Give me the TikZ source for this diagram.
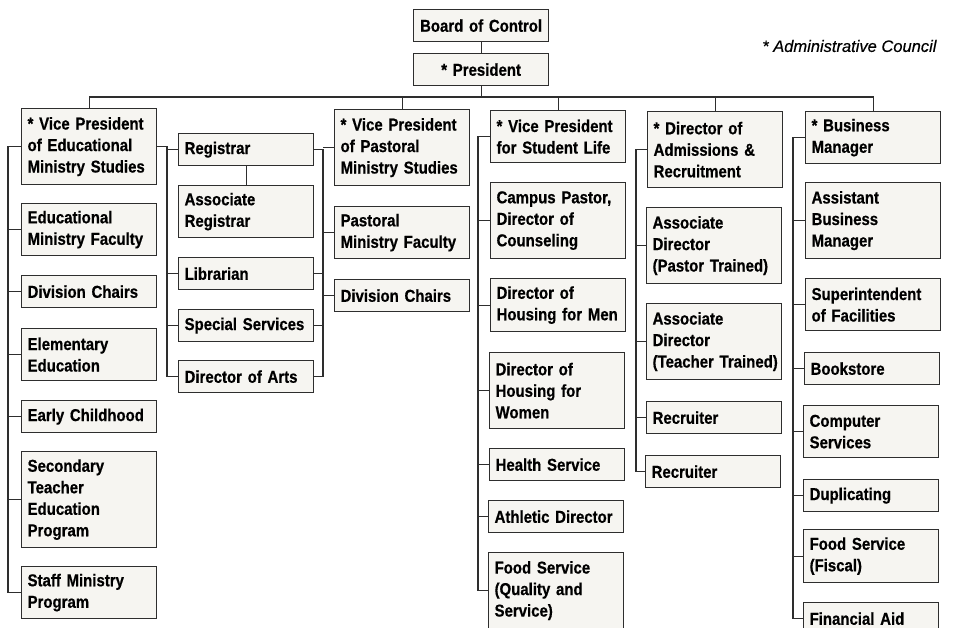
\documentclass[tikz,border=0pt]{standalone}
\usepackage{fontspec}
\newfontfamily\boxfont[FakeStretch=0.87,WordSpace=0.7,FakeBold=0.6]{Liberation Sans}
\newfontfamily\notefont[FakeBold=0.4]{Liberation Sans}
\definecolor{boxline}{HTML}{2E2E2E}
\definecolor{boxfill}{HTML}{F6F5F1}
\begin{document}
\begin{tikzpicture}[x=1pt,y=-1pt,
  unit/.style={draw=boxline,fill=boxfill,line width=1.2pt,anchor=north west,
    inner xsep=6pt,inner ysep=0pt,text width=123pt,align=left,
    font=\boxfont\bfseries\fontsize{17.2}{21.5}\selectfont},
  top/.style={unit,align=center,minimum height=32pt},
  link/.style={draw=boxline,line width=1.1pt}]
\clip (0,0) rectangle (956,627);
\node[top] (board) at (413,9) {Board of Control};
\node[top] (pres) at (413,53) {* President};
\node[anchor=east,font=\notefont\itshape\fontsize{16.5}{20}\selectfont] (note) at (940,46) {* Administrative Council};
\node[unit,minimum height=76pt] (vped) at (21,108) {* Vice President\\of Educational\\Ministry Studies};
\node[unit,minimum height=52pt] (edfac) at (21,203) {Educational\\Ministry Faculty};
\node[unit,minimum height=32pt] (edchairs) at (21,275) {Division Chairs};
\node[unit,minimum height=52pt] (elem) at (21,328) {Elementary\\Education};
\node[unit,minimum height=32pt] (early) at (21,400) {Early Childhood};
\node[unit,minimum height=96pt] (second) at (21,451) {Secondary\\Teacher\\Education\\Program};
\node[unit,minimum height=52pt] (staff) at (21,566) {Staff Ministry\\Program};
\node[unit,minimum height=32pt] (reg) at (178,133) {Registrar};
\node[unit,minimum height=52pt] (assocreg) at (178,185) {Associate\\Registrar};
\node[unit,minimum height=32pt] (lib) at (178,257) {Librarian};
\node[unit,minimum height=32pt] (spec) at (178,309) {Special Services};
\node[unit,minimum height=32pt] (arts) at (178,360) {Director of Arts};
\node[unit,minimum height=76pt] (vpp) at (334,109) {* Vice President\\of Pastoral\\Ministry Studies};
\node[unit,minimum height=52pt] (pastfac) at (334,206) {Pastoral\\Ministry Faculty};
\node[unit,minimum height=32pt] (pastchairs) at (334,279) {Division Chairs};
\node[unit,minimum height=52pt] (vps) at (490,110) {* Vice President\\for Student Life};
\node[unit,minimum height=76pt] (campus) at (490,182) {Campus Pastor,\\Director of\\Counseling};
\node[unit,minimum height=53pt] (men) at (490,278) {Director of\\Housing for Men};
\node[unit,minimum height=76pt] (women) at (489,352) {Director of\\Housing for\\Women};
\node[unit,minimum height=32pt] (health) at (489,448) {Health Service};
\node[unit,minimum height=32pt] (athletic) at (488,500) {Athletic Director};
\node[unit,minimum height=76pt] (foodqs) at (488,552) {Food Service\\(Quality and\\Service)};
\node[unit,minimum height=76pt] (dadm) at (647,111) {* Director of\\Admissions \&\\Recruitment};
\node[unit,minimum height=76pt] (assocp) at (646,207) {Associate\\Director\\(Pastor Trained)};
\node[unit,minimum height=76pt] (assoct) at (646,303) {Associate\\Director\\\makebox[123pt][l]{(Teacher Trained)}};
\node[unit,minimum height=32pt] (recr1) at (646,401) {Recruiter};
\node[unit,minimum height=32pt] (recr2) at (645,455) {Recruiter};
\node[unit,minimum height=52pt] (bm) at (805,111) {* Business\\Manager};
\node[unit,minimum height=76pt] (abm) at (805,182) {Assistant\\Business\\Manager};
\node[unit,minimum height=52pt] (supt) at (805,278) {Superintendent\\of Facilities};
\node[unit,minimum height=32pt] (books) at (804,352) {Bookstore};
\node[unit,minimum height=52pt] (comp) at (803,405) {Computer\\Services};
\node[unit,minimum height=32pt] (dup) at (803,479) {Duplicating};
\node[unit,minimum height=53pt] (fiscal) at (803,529) {Food Service\\(Fiscal)};
\node[unit,minimum height=32pt] (finaid) at (803,602) {Financial Aid};
\coordinate (tb) at (0,97);
\coordinate (edbus) at (8,0);
\coordinate (regbus) at (167,0);
\coordinate (pbus) at (323,0);
\coordinate (sbus) at (478,0);
\coordinate (abus) at (636,0);
\coordinate (bbus) at (793,0);
\draw[link] (board) -- (pres);
\draw[link] (pres.south) -- (pres.south |- tb);
\draw[link] (vped.north) -- (vped.north |- tb) -- (bm.north |- tb) -- (bm.north);
\foreach \n in {vpp,vps,dadm} \draw[link] (\n.north) -- (\n.north |- tb);
\draw[link] (vped.west) -- (vped.west -| edbus) -- (staff.west -| edbus) -- (staff.west);
\foreach \n in {edfac,edchairs,elem,early,second} \draw[link] (\n.west) -- (\n.west -| edbus);
\draw[link] (vped.east) -- (vped.east -| regbus) -- (arts.west -| regbus) -- (arts.west);
\foreach \n in {reg,lib,spec} \draw[link] (\n.west) -- (\n.west -| regbus);
\draw[link] (reg) -- (assocreg);
\draw[link] (reg.east) -- (reg.east -| pbus) -- (arts.east -| pbus) -- (arts.east);
\foreach \n in {lib,spec} \draw[link] (\n.east) -- (\n.east -| pbus);
\foreach \n in {vpp,pastfac,pastchairs} \draw[link] (\n.west) -- (\n.west -| pbus);
\draw[link] (vps.west) -- (vps.west -| sbus) -- (foodqs.west -| sbus) -- (foodqs.west);
\foreach \n in {campus,men,women,health,athletic} \draw[link] (\n.west) -- (\n.west -| sbus);
\draw[link] (dadm.west) -- (dadm.west -| abus) -- (recr2.west -| abus) -- (recr2.west);
\foreach \n in {assocp,assoct,recr1} \draw[link] (\n.west) -- (\n.west -| abus);
\draw[link] (bm.west) -- (bm.west -| bbus) -- (finaid.west -| bbus) -- (finaid.west);
\foreach \n in {abm,supt,books,comp,dup,fiscal} \draw[link] (\n.west) -- (\n.west -| bbus);
\end{tikzpicture}
\end{document}
